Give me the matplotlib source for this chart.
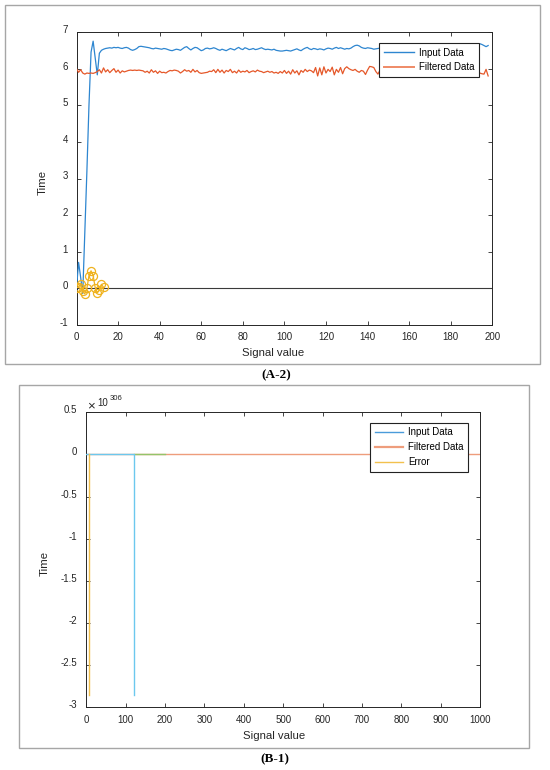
import numpy as np
import matplotlib
matplotlib.use("Agg")
import matplotlib.pyplot as plt
from matplotlib.patches import Rectangle
from matplotlib.lines import Line2D
from matplotlib.ticker import FuncFormatter
from matplotlib.transforms import ScaledTranslation

plt.rcParams['font.family'] = ['Liberation Sans', 'DejaVu Sans']
plt.rcParams['axes.unicode_minus'] = False

# ---------------- Panel A-2 data ----------------
a_input = [0.00, 0.71, 0.30, -0.14, 1.50, 3.20, 5.00, 6.45, 6.75, 6.30, 5.83, 6.42, 6.50,
           6.53, 6.55, 6.56, 6.57, 6.56, 6.58, 6.57, 6.58, 6.56, 6.55,
           6.57, 6.58, 6.56, 6.52, 6.50, 6.52, 6.55, 6.60, 6.61, 6.60,
           6.59, 6.58, 6.57, 6.55, 6.54, 6.56, 6.55, 6.54, 6.53, 6.55,
           6.54, 6.52, 6.50, 6.49, 6.51, 6.53, 6.52, 6.50, 6.54, 6.58,
           6.60, 6.55, 6.51, 6.55, 6.58, 6.57, 6.53, 6.49, 6.51, 6.55,
           6.56, 6.54, 6.55, 6.57, 6.55, 6.52, 6.50, 6.53, 6.51, 6.49,
           6.52, 6.55, 6.53, 6.51, 6.55, 6.58, 6.54, 6.52, 6.57, 6.55,
           6.52, 6.53, 6.55, 6.52, 6.53, 6.55, 6.57, 6.54, 6.52, 6.53,
           6.52, 6.51, 6.53, 6.50, 6.49, 6.48, 6.48, 6.49, 6.50, 6.49,
           6.48, 6.50, 6.52, 6.54, 6.51, 6.49, 6.53, 6.56, 6.58, 6.54,
           6.52, 6.55, 6.54, 6.52, 6.54, 6.53, 6.51, 6.54, 6.56, 6.55,
           6.53, 6.56, 6.58, 6.55, 6.57, 6.55, 6.53, 6.55, 6.54, 6.56,
           6.60, 6.63, 6.64, 6.62, 6.58, 6.56, 6.55, 6.57, 6.56, 6.55,
           6.53, 6.54, 6.55, 6.56, 6.55, 6.54, 6.56, 6.55, 6.53, 6.55,
           6.56, 6.54, 6.55, 6.57, 6.56, 6.54, 6.55, 6.56, 6.55, 6.53,
           6.55, 6.56, 6.54, 6.55, 6.57, 6.56, 6.55, 6.54, 6.56, 6.55,
           6.54, 6.56, 6.57, 6.55, 6.54, 6.56, 6.58, 6.57, 6.55, 6.56,
           6.57, 6.58, 6.59, 6.60, 6.61, 6.62, 6.63, 6.62, 6.64, 6.66,
           6.67, 6.68, 6.66, 6.63, 6.60, 6.63]

a_filtered = [6.00, 5.90, 5.97, 5.88, 5.85, 5.88, 5.87, 5.88, 5.87, 5.89,
              5.92, 5.97, 5.88, 6.02, 5.91, 5.97, 5.89, 5.95, 6.00, 5.90,
              5.96, 5.88, 5.94, 5.91, 5.93, 5.95, 5.96, 5.95, 5.96, 5.95,
              5.96, 5.95, 5.94, 5.90, 5.93, 5.88, 5.97, 5.90, 5.94, 5.87,
              5.93, 5.89, 5.90, 5.88, 5.92, 5.95, 5.94, 5.96, 5.95, 5.93,
              5.88, 5.92, 5.97, 5.93, 5.95, 5.90, 5.98, 5.91, 5.95, 5.89,
              5.87, 5.88, 5.89, 5.90, 5.93, 5.92, 5.97, 5.89, 5.98, 5.90,
              5.96, 5.88, 5.95, 5.92, 5.98, 5.89, 5.93, 5.88, 5.96, 5.90,
              5.93, 5.91, 5.95, 5.89, 5.92, 5.94, 5.91, 5.96, 5.93, 5.92,
              5.89, 5.91, 5.93, 5.90, 5.92, 5.88, 5.90, 5.87, 5.92, 5.88,
              5.95, 5.87, 5.93, 5.85, 5.97, 5.88, 5.94, 5.83, 5.95, 5.90,
              5.98, 5.92, 5.96, 5.94, 5.89, 6.03, 5.80, 6.02, 5.83, 6.05,
              5.88, 5.98, 5.92, 6.04, 5.83, 5.98, 5.90, 6.03, 5.86, 6.00,
              6.05, 6.00, 5.97, 5.95, 5.98, 5.93, 5.90, 5.95, 5.93, 5.84,
              5.96, 6.06, 6.05, 6.03, 5.92, 5.85, 5.96, 5.90, 5.94, 5.88,
              5.92, 5.95, 5.86, 5.93, 5.97, 5.89, 5.84, 5.93, 5.88, 5.95,
              5.90, 5.86, 5.94, 5.89, 5.97, 5.92, 5.85, 5.95, 5.90, 5.88,
              5.93, 5.87, 5.96, 5.91, 5.89, 5.94, 5.86, 5.92, 5.90, 5.95,
              5.88, 5.93, 5.87, 5.81, 5.92, 5.90, 5.85, 5.93, 5.89, 5.95,
              5.90, 5.88, 5.93, 5.91, 5.88, 5.86, 5.85, 5.98, 5.80]

a_error = [0.02, 0.03, 0.12, -0.08, -0.15, 0.00, 0.35, 0.48, 0.35, 0.02, -0.12, -0.05, 0.11, 0.03]
a_base_x = [0, 200]
a_base_y = [0, 0]
a_xticks = [0, 20, 40, 60, 80, 100, 120, 140, 160, 180, 200]
a_yticks = [-1, 0, 1, 2, 3, 4, 5, 6, 7]

# ---------------- Panel B-1 data ----------------
b_scale = 1e306
b_filtered_x = [0, 1000]
b_filtered_y = [0, 0]
b_green_x = [122, 200]
b_green_y = [0, 0]
b_input_x = [0, 122, 122]
b_input_y = [0, 0, -2.85e306]
b_error_x = [7, 7]
b_error_y = [0, -2.85e306]
b_xticks = [0, 100, 200, 300, 400, 500, 600, 700, 800, 900, 1000]
b_yticks = [-3, -2.5, -2, -1.5, -1, -0.5, 0, 0.5]

W, H = 550, 770
fig = plt.figure(figsize=(W / 100, H / 100), dpi=100)
fig.patch.set_facecolor('white')

# panel frames
fig.add_artist(Rectangle((5 / W, (H - 364) / H), 535 / W, 359 / H, transform=fig.transFigure,
                         fill=False, edgecolor='#a6a6a6', lw=1.0))
fig.add_artist(Rectangle((19.3 / W, (H - 747.7) / H), 509.7 / W, 362.7 / H, transform=fig.transFigure,
                         fill=False, edgecolor='#a6a6a6', lw=1.0))

spine_c = '#262626'
tick_fs = 7.0
lab_fs = 8.2
leg_fs = 7.0


def style(ax, xpad, ypad):
    for s in ax.spines.values():
        s.set_color(spine_c)
        s.set_linewidth(0.7)
    ax.tick_params(direction='in', length=3, width=0.6, colors=spine_c, labelsize=tick_fs,
                   top=True, right=True)
    ax.tick_params(axis='x', pad=xpad)
    ax.tick_params(axis='y', pad=ypad)
    off = ScaledTranslation(0, 2.2 / 72, fig.dpi_scale_trans)
    for lab in ax.get_yticklabels():
        lab.set_transform(lab.get_transform() + off)


# ---------------- Panel A-2 ----------------
ax1 = fig.add_axes([76.5 / W, (H - 325) / H, 415.8 / W, 293 / H])
xa = np.arange(len(a_input))
xf = np.arange(len(a_filtered))
xe = np.arange(len(a_error))
ax1.plot(a_base_x, a_base_y, color='#3a3a3a', lw=0.8, zorder=2)
ax1.plot(xa, a_input, color='#2e86d0', lw=0.9, label='Input Data', zorder=3)
ax1.plot(xf, a_filtered, color='#e5582a', lw=0.9, label='Filtered Data', zorder=3)
ax1.plot(xe, a_error, color='#efb21e', lw=0.9, marker='o', markersize=5.8, markerfacecolor='none',
         markeredgewidth=0.9, zorder=4)
ax1.set_xlim(0, 200)
ax1.set_ylim(-1, 7)
ax1.set_xticks(a_xticks)
ax1.set_yticks(a_yticks)
style(ax1, 5.0, 6.0)
ax1.set_xlabel('Signal value', fontsize=lab_fs, color=spine_c)
ax1.xaxis.set_label_coords(0.474, -0.096)
ax1.xaxis.label.set_va('center')
ax1.set_ylabel('Time', fontsize=lab_fs, color=spine_c)
ax1.yaxis.set_label_coords(-0.081, 0.488)
ax1.yaxis.label.set_va('center')
leg1 = ax1.legend(handles=[Line2D([], [], color='#2e86d0', lw=1.0),
                           Line2D([], [], color='#ef8a66', lw=1.4)],
                  labels=['Input Data', 'Filtered Data'],
                  loc='upper right', bbox_to_anchor=(0.968, 0.9635), borderaxespad=0,
                  fontsize=leg_fs, frameon=True, fancybox=False, framealpha=1,
                  edgecolor='#222222', handlelength=3.1, handletextpad=0.5,
                  labelspacing=0.45, borderpad=0.5)
leg1.get_frame().set_linewidth(0.8)

fig.text(276.7 / W, 1 - 375 / H, '(A-2)', ha='center', va='center', fontsize=9.5,
         fontweight='bold', family='Liberation Serif')

# ---------------- Panel B-1 ----------------
ax2 = fig.add_axes([86.3 / W, (H - 707.3) / H, 393.7 / W, 295 / H])
ax2.plot(b_filtered_x, b_filtered_y, color='#ee9d7c', lw=1.0, zorder=2)
ax2.plot(b_green_x, b_green_y, color='#93c46a', lw=1.0, zorder=3)
ax2.plot(b_input_x, b_input_y, color='#6cc8ee', lw=1.0, zorder=4)
ax2.plot(b_error_x, b_error_y, color='#f2c14e', lw=1.0, zorder=5)
ax2.set_xlim(0, 1000)
ax2.set_ylim(-3 * b_scale, 0.5 * b_scale)
ax2.set_xticks(b_xticks)
ax2.set_yticks([v * b_scale for v in b_yticks])
ax2.yaxis.set_major_formatter(FuncFormatter(lambda v, p: f"{v / b_scale:g}"))
style(ax2, 5.5, 6.8)
ax2.set_xlabel('Signal value', fontsize=lab_fs, color=spine_c)
ax2.xaxis.set_label_coords(0.476, -0.097)
ax2.xaxis.label.set_va('center')
ax2.set_ylabel('Time', fontsize=lab_fs, color=spine_c)
ax2.yaxis.set_label_coords(-0.105, 0.489)
ax2.yaxis.label.set_va('center')
leg2 = ax2.legend(handles=[Line2D([], [], color='#4a9bda', lw=1.0),
                           Line2D([], [], color='#ee9d7c', lw=1.6),
                           Line2D([], [], color='#f2c14e', lw=1.0)],
                  labels=['Input Data', 'Filtered Data', 'Error'],
                  loc='upper right', bbox_to_anchor=(0.970, 0.965), borderaxespad=0,
                  fontsize=leg_fs, frameon=True, fancybox=False, framealpha=1,
                  edgecolor='#222222', handlelength=2.9, handletextpad=0.5,
                  labelspacing=0.5, borderpad=0.5)
leg2.get_frame().set_linewidth(0.8)

fig.text(90.7 / W, 1 - 406 / H, '\u00d7', ha='center', va='center', fontsize=9.5, color=spine_c)
fig.text(102.2 / W, 1 - 402.7 / H, '10', ha='center', va='center', fontsize=7.0, color=spine_c)
fig.text(116.2 / W, 1 - 398.7 / H, '306', ha='center', va='center', fontsize=5.6, color=spine_c)

fig.text(274.4 / W, 1 - 759 / H, '(B-1)', ha='center', va='center', fontsize=9.5,
         fontweight='bold', family='Liberation Serif')

fig.savefig('out.png', dpi=100, facecolor='white')
